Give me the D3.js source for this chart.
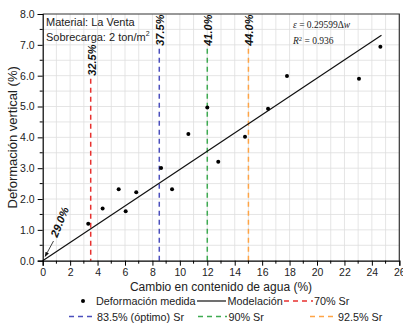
<!DOCTYPE html>
<html><head><meta charset="utf-8">
<script src="https://cdn.jsdelivr.net/npm/d3@7"></script>
<style>body{margin:0;background:#fff}svg{display:block}</style>
</head><body>
<script>
// ---- data ----
const deltaW = [3.32, 4.37, 5.54, 6.05, 6.82, 8.63, 9.43, 10.62, 12.0, 12.80, 14.75, 16.43, 17.81, 23.06, 24.62];
const deform = [1.20, 1.69, 2.32, 1.60, 2.22, 3.01, 2.32, 4.11, 4.97, 3.21, 4.02, 4.93, 5.99, 5.90, 6.94];
const slope = 0.29599;
const fitRange = [0, 24.7];
const srLinesX = [3.5, 8.5, 12, 15];
const srLineLabels = ["32.5%", "37.5%", "41.0%", "44.0%"];
const srLegend = ["70% Sr", "83.5% (óptimo) Sr", "90% Sr", "92.5% Sr"];
const xTicks = d3.range(0, 27, 2);
const yTicks = d3.range(0, 8.01, 1);

// ---- styles / layout ----
const srColors = ["#e8312f", "#4c50bd", "#3fab52", "#ffa446"];
const W = 403, H = 325;
const L = 42.7, R = 399.3, T = 14, B = 260.7;
const font = "'Liberation Sans', Arial, sans-serif";

const svg = d3.select("body").append("svg").attr("width", W).attr("height", H);
const x = d3.scaleLinear().domain([0, 26]).range([L, R]);
const y = d3.scaleLinear().domain([0, 8]).range([B, T]);

// grid
const g = svg.append("g");
g.selectAll(".gx").data(d3.range(1, 26, 1)).join("line")
  .attr("x1", d => x(d)).attr("x2", d => x(d)).attr("y1", T).attr("y2", B)
  .attr("stroke", "#dedede").attr("stroke-width", 0.8);
g.selectAll(".gy").data(d3.range(0.5, 8, 0.5)).join("line")
  .attr("y1", d => y(d)).attr("y2", d => y(d)).attr("x1", L).attr("x2", R)
  .attr("stroke", "#dedede").attr("stroke-width", 0.8);

// frame (top/right)
svg.append("path").attr("d", `M${L},${T}H${R}V${B}`).attr("fill", "none")
  .attr("stroke", "#333").attr("stroke-width", 1.2);

// vertical Sr lines
srLinesX.forEach((v, i) => {
  const textBottomVal = i === 0 ? 6.0 : 6.97;
  svg.append("line").attr("x1", x(v)).attr("x2", x(v))
    .attr("y1", y(textBottomVal) + 3).attr("y2", B)
    .attr("stroke", srColors[i]).attr("stroke-width", 1.5).attr("stroke-dasharray", "5,4");
  svg.append("text")
    .attr("transform", `translate(${x(v) + 0.8},${y(textBottomVal)}) rotate(-90)`)
    .attr("dominant-baseline", "central")
    .attr("font-family", font).attr("font-size", 11).attr("font-weight", "bold")
    .attr("font-style", "italic").attr("fill", "#111").text(srLineLabels[i]);
});

// fit line
svg.append("line").attr("x1", x(fitRange[0])).attr("y1", y(slope * fitRange[0]))
  .attr("x2", x(fitRange[1])).attr("y2", y(slope * fitRange[1]))
  .attr("stroke", "#111").attr("stroke-width", 1.2);

// points
svg.selectAll(".pt").data(deltaW.map((d, i) => [d, deform[i]])).join("circle")
  .attr("cx", d => x(d[0])).attr("cy", d => y(d[1])).attr("r", 2).attr("fill", "#000");

// axes
const xAxis = d3.axisBottom(x).tickValues(xTicks).tickSize(5).tickPadding(3).tickFormat(d3.format("d"));
const gx = svg.append("g").attr("transform", `translate(0,${B})`).call(xAxis);
gx.append("g").selectAll("line").data(d3.range(1, 26, 2)).join("line")
  .attr("x1", d => x(d)).attr("x2", d => x(d)).attr("y1", 0).attr("y2", 3).attr("stroke", "#000");
const yAxis = d3.axisLeft(y).tickValues(yTicks).tickSize(5).tickPadding(3).tickFormat(d3.format(".1f"));
const gy = svg.append("g").attr("transform", `translate(${L},0)`).call(yAxis);
gy.append("g").selectAll("line").data(d3.range(0.5, 8, 1)).join("line")
  .attr("y1", d => y(d)).attr("y2", d => y(d)).attr("x1", 0).attr("x2", -3).attr("stroke", "#000");
[gx, gy].forEach(a => {
  a.selectAll("text").attr("font-family", font).attr("font-size", 10.5).attr("fill", "#222");
  a.select(".domain").attr("stroke", "#000").attr("stroke-width", 1.2);
  a.selectAll(".tick line").attr("stroke", "#000");
});

// axis titles
svg.append("text").attr("x", (L + R) / 2).attr("y", 287).attr("text-anchor", "middle")
  .attr("dominant-baseline", "central").attr("font-family", font).attr("font-size", 12)
  .attr("fill", "#222").text("Cambio en contenido de agua (%)");
svg.append("text").attr("transform", `translate(12,${(T + B) / 2}) rotate(-90)`)
  .attr("text-anchor", "middle").attr("dominant-baseline", "central")
  .attr("font-family", font).attr("font-size", 13).attr("fill", "#222")
  .text("Deformación vertical (%)");

// info text
svg.append("text").attr("x", 46).attr("y", 22).attr("dominant-baseline", "central")
  .attr("font-family", font).attr("font-size", 11).attr("fill", "#222").text("Material: La Venta");
const sob = svg.append("text").attr("x", 46).attr("y", 36.5).attr("dominant-baseline", "central")
  .attr("font-family", font).attr("font-size", 11).attr("fill", "#222");
sob.append("tspan").text("Sobrecarga: 2 ton/m");
sob.append("tspan").attr("font-size", 7).attr("dy", -4).text("2");

// equation
const serif = "'Liberation Serif', 'Times New Roman', serif";
const eq = svg.append("text").attr("x", 293).attr("y", 25).attr("dominant-baseline", "central")
  .attr("font-family", serif).attr("font-size", 9.5).attr("fill", "#222");
eq.append("tspan").attr("font-style", "italic").text("ε");
eq.append("tspan").text(" = " + slope + "Δ");
eq.append("tspan").attr("font-style", "italic").text("w");
const r2 = svg.append("text").attr("x", 293).attr("y", 41).attr("dominant-baseline", "central")
  .attr("font-family", serif).attr("font-size", 9.5).attr("fill", "#222");
r2.append("tspan").attr("font-style", "italic").text("R");
r2.append("tspan").attr("font-size", 6.5).attr("dy", -3.5).text("2");
r2.append("tspan").attr("dy", 3.5).text(" = 0.936");

// 29.0% annotation with arrow
svg.append("defs").append("marker").attr("id", "ah").attr("viewBox", "0 0 10 10")
  .attr("refX", 9).attr("refY", 5).attr("markerWidth", 6).attr("markerHeight", 6)
  .attr("orient", "auto").append("path").attr("d", "M0,1L10,5L0,9Z").attr("fill", "#111");
svg.append("line").attr("x1", 53.5).attr("y1", 241).attr("x2", x(0.18)).attr("y2", y(0.14))
  .attr("stroke", "#111").attr("stroke-width", 0.8).attr("marker-end", "url(#ah)");
svg.append("text").attr("transform", "translate(59.5,222) rotate(-68)")
  .attr("text-anchor", "middle").attr("dominant-baseline", "central")
  .attr("font-family", font).attr("font-size", 11).attr("font-weight", "bold")
  .attr("font-style", "italic").attr("fill", "#111").text("29.0%");

// legend
const lg = svg.append("g").attr("font-family", font).attr("font-size", 10.8).attr("fill", "#222");
const row1 = 301, row2 = 316.5;
function legText(xp, yp, t) { lg.append("text").attr("x", xp).attr("y", yp).attr("dominant-baseline", "central").text(t); }
function legDash(x1, x2, yp, c) {
  lg.append("line").attr("x1", x1).attr("x2", x2).attr("y1", yp).attr("y2", yp)
    .attr("stroke", c).attr("stroke-width", 1.5).attr("stroke-dasharray", "5,4");
}
lg.append("circle").attr("cx", 83).attr("cy", row1).attr("r", 2).attr("fill", "#000");
legText(96, row1, "Deformación medida");
lg.append("line").attr("x1", 197).attr("x2", 226).attr("y1", row1).attr("y2", row1).attr("stroke", "#111").attr("stroke-width", 1.2);
legText(227.5, row1, "Modelación");
legDash(284, 313, row1, srColors[0]);
legText(314, row1, srLegend[0]);
legDash(69, 96, row2, srColors[1]);
legText(97, row2, srLegend[1]);
legDash(198, 227, row2, srColors[2]);
legText(228.5, row2, srLegend[2]);
legDash(310, 337, row2, srColors[3]);
legText(338, row2, srLegend[3]);
</script>
</body></html>
